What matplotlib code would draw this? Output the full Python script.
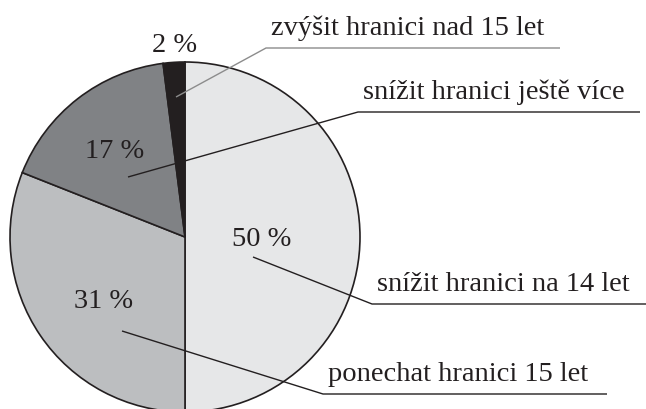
import matplotlib
matplotlib.use("Agg")
import matplotlib.pyplot as plt

# survey answers, clockwise from 12 o'clock
answers = [
    "snížit hranici na 14 let",
    "ponechat hranici 15 let",
    "snížit hranici ještě více",
    "zvýšit hranici nad 15 let",
]
shares = [50, 31, 17, 2]
colors = ["#e6e7e8", "#bcbec0", "#808285", "#231f20"]

W, H = 646, 409
ink = "#231f20"


def Y(y):
    # pixel rows from the top -> data y
    return H - y


plt.rcParams["font.family"] = ["Liberation Serif", "DejaVu Serif"]

fig = plt.figure(figsize=(W / 100, H / 100), dpi=100)
ax = fig.add_axes([0, 0, 1, 1])

ax.pie(
    shares,
    colors=colors,
    startangle=90,
    counterclock=False,
    center=(185, Y(237)),
    radius=175,
    wedgeprops={"edgecolor": ink, "linewidth": 1.2},
)
ax.set_xlim(0, W)
ax.set_ylim(0, H)
ax.set_aspect("equal")
ax.axis("off")

# percent labels (x, y of centre in px)
pct_pos = [(262, 240), (104, 301), (115, 151), (175, 45)]
for v, (px, py) in zip(shares, pct_pos):
    ax.text(px, Y(py), f"{v} %", ha="center", va="center",
            fontsize=20.5, color=ink)

# leader lines: start inside the wedge, elbow, end of underline
leaders = [
    ((253, 257), (372, 304), 646, ink),
    ((122, 331), (323, 394), 607, ink),
    ((128, 177), (358, 112), 640, ink),
    ((176, 97), (266, 48), 560, "#8c8c8c"),
]
for label, (start, elbow, end, lc) in zip(answers, leaders):
    xs = [start[0], elbow[0], end]
    ys = [Y(start[1]), Y(elbow[1]), Y(elbow[1])]
    ax.plot(xs, ys, color=lc, lw=1.0, solid_capstyle="butt")
    ax.text(elbow[0] + 5, Y(elbow[1] - 13), label, ha="left",
            va="baseline", fontsize=20.5, color=ink)

fig.savefig("out.png", dpi=100, facecolor="white")
